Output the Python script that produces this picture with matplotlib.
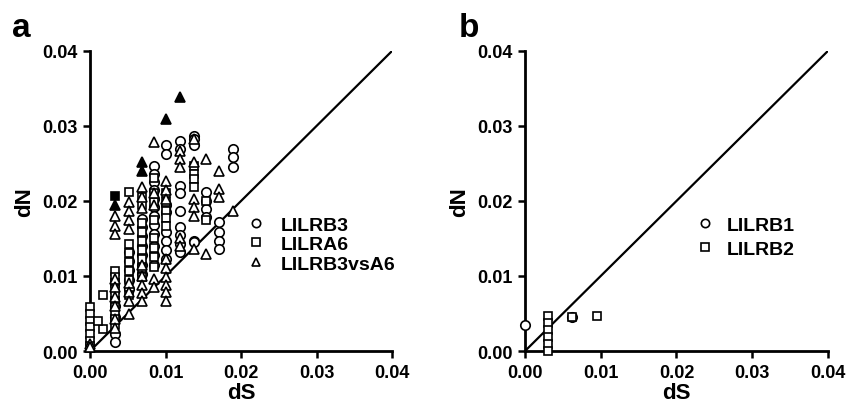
import matplotlib
matplotlib.use("Agg")
import matplotlib.pyplot as plt
from matplotlib.lines import Line2D

plt.rcParams['font.family'] = ['Liberation Sans', 'DejaVu Sans']
plt.rcParams['font.weight'] = 'bold'

# panel a, LILRB3 (circles)
b3_ds = [0.0033, 0.0033, 0.0033, 0.0033,
         0.0051, 0.0051, 0.0051, 0.0051, 0.0051,
         0.0069, 0.0069, 0.0069, 0.0069, 0.0069, 0.0069, 0.0069,
         0.0085, 0.0085, 0.0085, 0.0085, 0.0085, 0.0085, 0.0085, 0.0085, 0.0085, 0.0085, 0.0085, 0.0085,
         0.0101, 0.0101, 0.0101, 0.0101, 0.0101, 0.0101, 0.0101, 0.0101,
         0.0119, 0.0119, 0.0119, 0.0119, 0.0119, 0.0119, 0.0119, 0.0119, 0.0119,
         0.0138, 0.0138, 0.0138, 0.0138, 0.0138,
         0.0154, 0.0154, 0.0154, 0.0154,
         0.0171, 0.0171, 0.0171, 0.0171,
         0.0189, 0.0189, 0.0189]
b3_dn = [0.0023, 0.0012, 0.0045, 0.0060,
         0.0132, 0.0120, 0.0108, 0.0095, 0.0083,
         0.0176, 0.0165, 0.0153, 0.0140, 0.0128, 0.0115, 0.0103,
         0.0246, 0.0236, 0.0225, 0.0214, 0.0203, 0.0192, 0.0180, 0.0168, 0.0156, 0.0140, 0.0128, 0.0115,
         0.0274, 0.0263, 0.0158, 0.0147, 0.0135, 0.0123, 0.0195, 0.0185,
         0.0280, 0.0269, 0.0220, 0.0210, 0.0187, 0.0165, 0.0154, 0.0143, 0.0132,
         0.0287, 0.0283, 0.0274, 0.0147, 0.0145,
         0.0212, 0.0200, 0.0189, 0.0178,
         0.0172, 0.0158, 0.0147, 0.0136,
         0.0269, 0.0258, 0.0245]

# panel a, LILRA6 (squares)
a6_ds = [0.0, 0.0, 0.0, 0.0, 0.0, 0.0, 0.0,
         0.0017, 0.0017, 0.0010,
         0.0033, 0.0033, 0.0033, 0.0033, 0.0033, 0.0033, 0.0033, 0.0033, 0.0033, 0.0033,
         0.0051, 0.0051, 0.0051, 0.0051, 0.0051, 0.0051, 0.0051,
         0.0069, 0.0069, 0.0069, 0.0069, 0.0069, 0.0069, 0.0069, 0.0069, 0.0069,
         0.0085, 0.0085, 0.0085, 0.0085, 0.0085, 0.0085, 0.0085, 0.0085,
         0.0101, 0.0101, 0.0101, 0.0101, 0.0101,
         0.0138, 0.0138, 0.0138, 0.0138,
         0.0154, 0.0154]
a6_dn = [0.0058, 0.0049, 0.0040, 0.0032, 0.0023, 0.0014, 0.0007,
         0.0075, 0.0029, 0.0040,
         0.0106, 0.0098, 0.0090, 0.0082, 0.0074, 0.0066, 0.0058, 0.0050, 0.0042, 0.0034,
         0.0212, 0.0143, 0.0130, 0.0118, 0.0106, 0.0094, 0.0074,
         0.0205, 0.0194, 0.0170, 0.0158, 0.0146, 0.0134, 0.0122, 0.0110, 0.0098,
         0.0230, 0.0210, 0.0198, 0.0175, 0.0150, 0.0137, 0.0125, 0.0112,
         0.0210, 0.0198, 0.0187, 0.0177, 0.0167,
         0.0247, 0.0236, 0.0229, 0.0218,
         0.0200, 0.0175]
a6_fill_ds = [0.0033]
a6_fill_dn = [0.0206]

# panel a, LILRB3 vs A6 (triangles)
vs_ds = [0.0, 0.0,
         0.0033, 0.0033, 0.0033, 0.0033, 0.0033, 0.0033, 0.0033, 0.0033, 0.0033,
         0.0051, 0.0051, 0.0051, 0.0051, 0.0051, 0.0051, 0.0051, 0.0051,
         0.0069, 0.0069, 0.0069, 0.0069, 0.0069, 0.0069, 0.0069, 0.0069,
         0.0085, 0.0085, 0.0085, 0.0085, 0.0085,
         0.0101, 0.0101, 0.0101, 0.0101, 0.0101, 0.0101, 0.0101, 0.0101, 0.0101,
         0.0119, 0.0119, 0.0119, 0.0119, 0.0119,
         0.0138, 0.0138, 0.0138, 0.0138, 0.0138, 0.0138,
         0.0154, 0.0154,
         0.0171, 0.0171, 0.0171,
         0.0189]
vs_dn = [0.0010, 0.0005,
         0.0180, 0.0167, 0.0156, 0.0096, 0.0085, 0.0072, 0.0060, 0.0043, 0.0030,
         0.0198, 0.0187, 0.0174, 0.0163, 0.0090, 0.0078, 0.0066, 0.0049,
         0.0218, 0.0205, 0.0190, 0.0114, 0.0100, 0.0088, 0.0077, 0.0067,
         0.0278, 0.0210, 0.0195, 0.0096, 0.0085,
         0.0227, 0.0215, 0.0203, 0.0123, 0.0110, 0.0098, 0.0088, 0.0078, 0.0067,
         0.0267, 0.0256, 0.0245, 0.0150, 0.0140,
         0.0283, 0.0252, 0.0203, 0.0192, 0.0180, 0.0136,
         0.0256, 0.0129,
         0.0240, 0.0216, 0.0205,
         0.0186]
vs_fill_ds = [0.0033, 0.0069, 0.0069, 0.0101, 0.0119]
vs_fill_dn = [0.0195, 0.0252, 0.0240, 0.0309, 0.0338]

# panel b
b1_ds = [0.0, 0.0062]
b1_dn = [0.0034, 0.0045]
b2_ds = [0.0031, 0.0031, 0.0031, 0.0031, 0.0031, 0.0031, 0.0062, 0.0095]
b2_dn = [0.0046, 0.0037, 0.0028, 0.0019, 0.0009, 0.0, 0.0045, 0.0046]

ticks = [0.00, 0.01, 0.02, 0.03, 0.04]

fig = plt.figure(figsize=(8.46, 4.06), dpi=100)
ax_a = fig.add_axes([0.1064, 0.133, 0.357, 0.739])
ax_b = fig.add_axes([0.6206, 0.133, 0.358, 0.739])

open_kw = dict(linestyle='none', markerfacecolor='white', markeredgecolor='black',
               markeredgewidth=1.2)
fill_kw = dict(linestyle='none', markerfacecolor='black', markeredgecolor='black',
               markeredgewidth=1.2)
sizes = {'o': 6.8, 's': 6.4, '^': 7.2}


def style_axes(ax):
    ax.set_xlim(0, 0.04)
    ax.set_ylim(0, 0.04)
    ax.plot([0, 0.04], [0, 0.04], color='black', lw=1.6, zorder=1)
    ax.set_xticks(ticks)
    ax.set_yticks(ticks)
    ax.set_xticklabels([f"{t:.2f}" for t in ticks])
    ax.set_yticklabels([f"{t:.2f}" for t in ticks])
    for side in ['top', 'right']:
        ax.spines[side].set_visible(False)
    for side in ['left', 'bottom']:
        ax.spines[side].set_linewidth(2.0)
    ax.tick_params(direction='out', length=5, width=1.8, labelsize=13, pad=4)
    ax.set_xlabel("dS", fontsize=16, fontweight='bold', labelpad=1)
    ax.set_ylabel("dN", fontsize=16, fontweight='bold', labelpad=5)
    for lab in ax.get_xticklabels() + ax.get_yticklabels():
        lab.set_fontweight('bold')


def pts(ax, xs, ys, m, kw, z):
    ax.plot(xs, ys, marker=m, markersize=sizes[m], clip_on=False, zorder=z, **kw)


style_axes(ax_a)
pts(ax_a, b3_ds, b3_dn, 'o', open_kw, 3)
pts(ax_a, a6_ds, a6_dn, 's', open_kw, 4)
pts(ax_a, vs_ds, vs_dn, '^', open_kw, 5)
pts(ax_a, a6_fill_ds, a6_fill_dn, 's', fill_kw, 6)
pts(ax_a, vs_fill_ds, vs_fill_dn, '^', fill_kw, 6)

leg_kw = dict(frameon=False, handlelength=0.6, handletextpad=1.0,
              borderpad=0, borderaxespad=0, loc='center left', labelspacing=0.1,
              prop={'weight': 'bold', 'size': 14})
h_a = [Line2D([], [], marker=m, markersize=6, **open_kw) for m in ['o', 's', '^']]
ax_a.legend(h_a, ['LILRB3', 'LILRA6', 'LILRB3vsA6'], bbox_to_anchor=(0.53, 0.355), **leg_kw)

style_axes(ax_b)
pts(ax_b, b1_ds, b1_dn, 'o', open_kw, 3)
pts(ax_b, b2_ds, b2_dn, 's', open_kw, 4)
h_b = [Line2D([], [], marker=m, markersize=6, **open_kw) for m in ['o', 's']]
leg_b = dict(leg_kw, labelspacing=0.35, handletextpad=0.8)
ax_b.legend(h_b, ['LILRB1', 'LILRB2'], bbox_to_anchor=(0.575, 0.38), **leg_b)

fig.text(0.014, 0.93, "a", fontsize=24, fontweight='bold', va='center')
fig.text(0.542, 0.93, "b", fontsize=24, fontweight='bold', va='center')

fig.savefig("out.png", dpi=100)
